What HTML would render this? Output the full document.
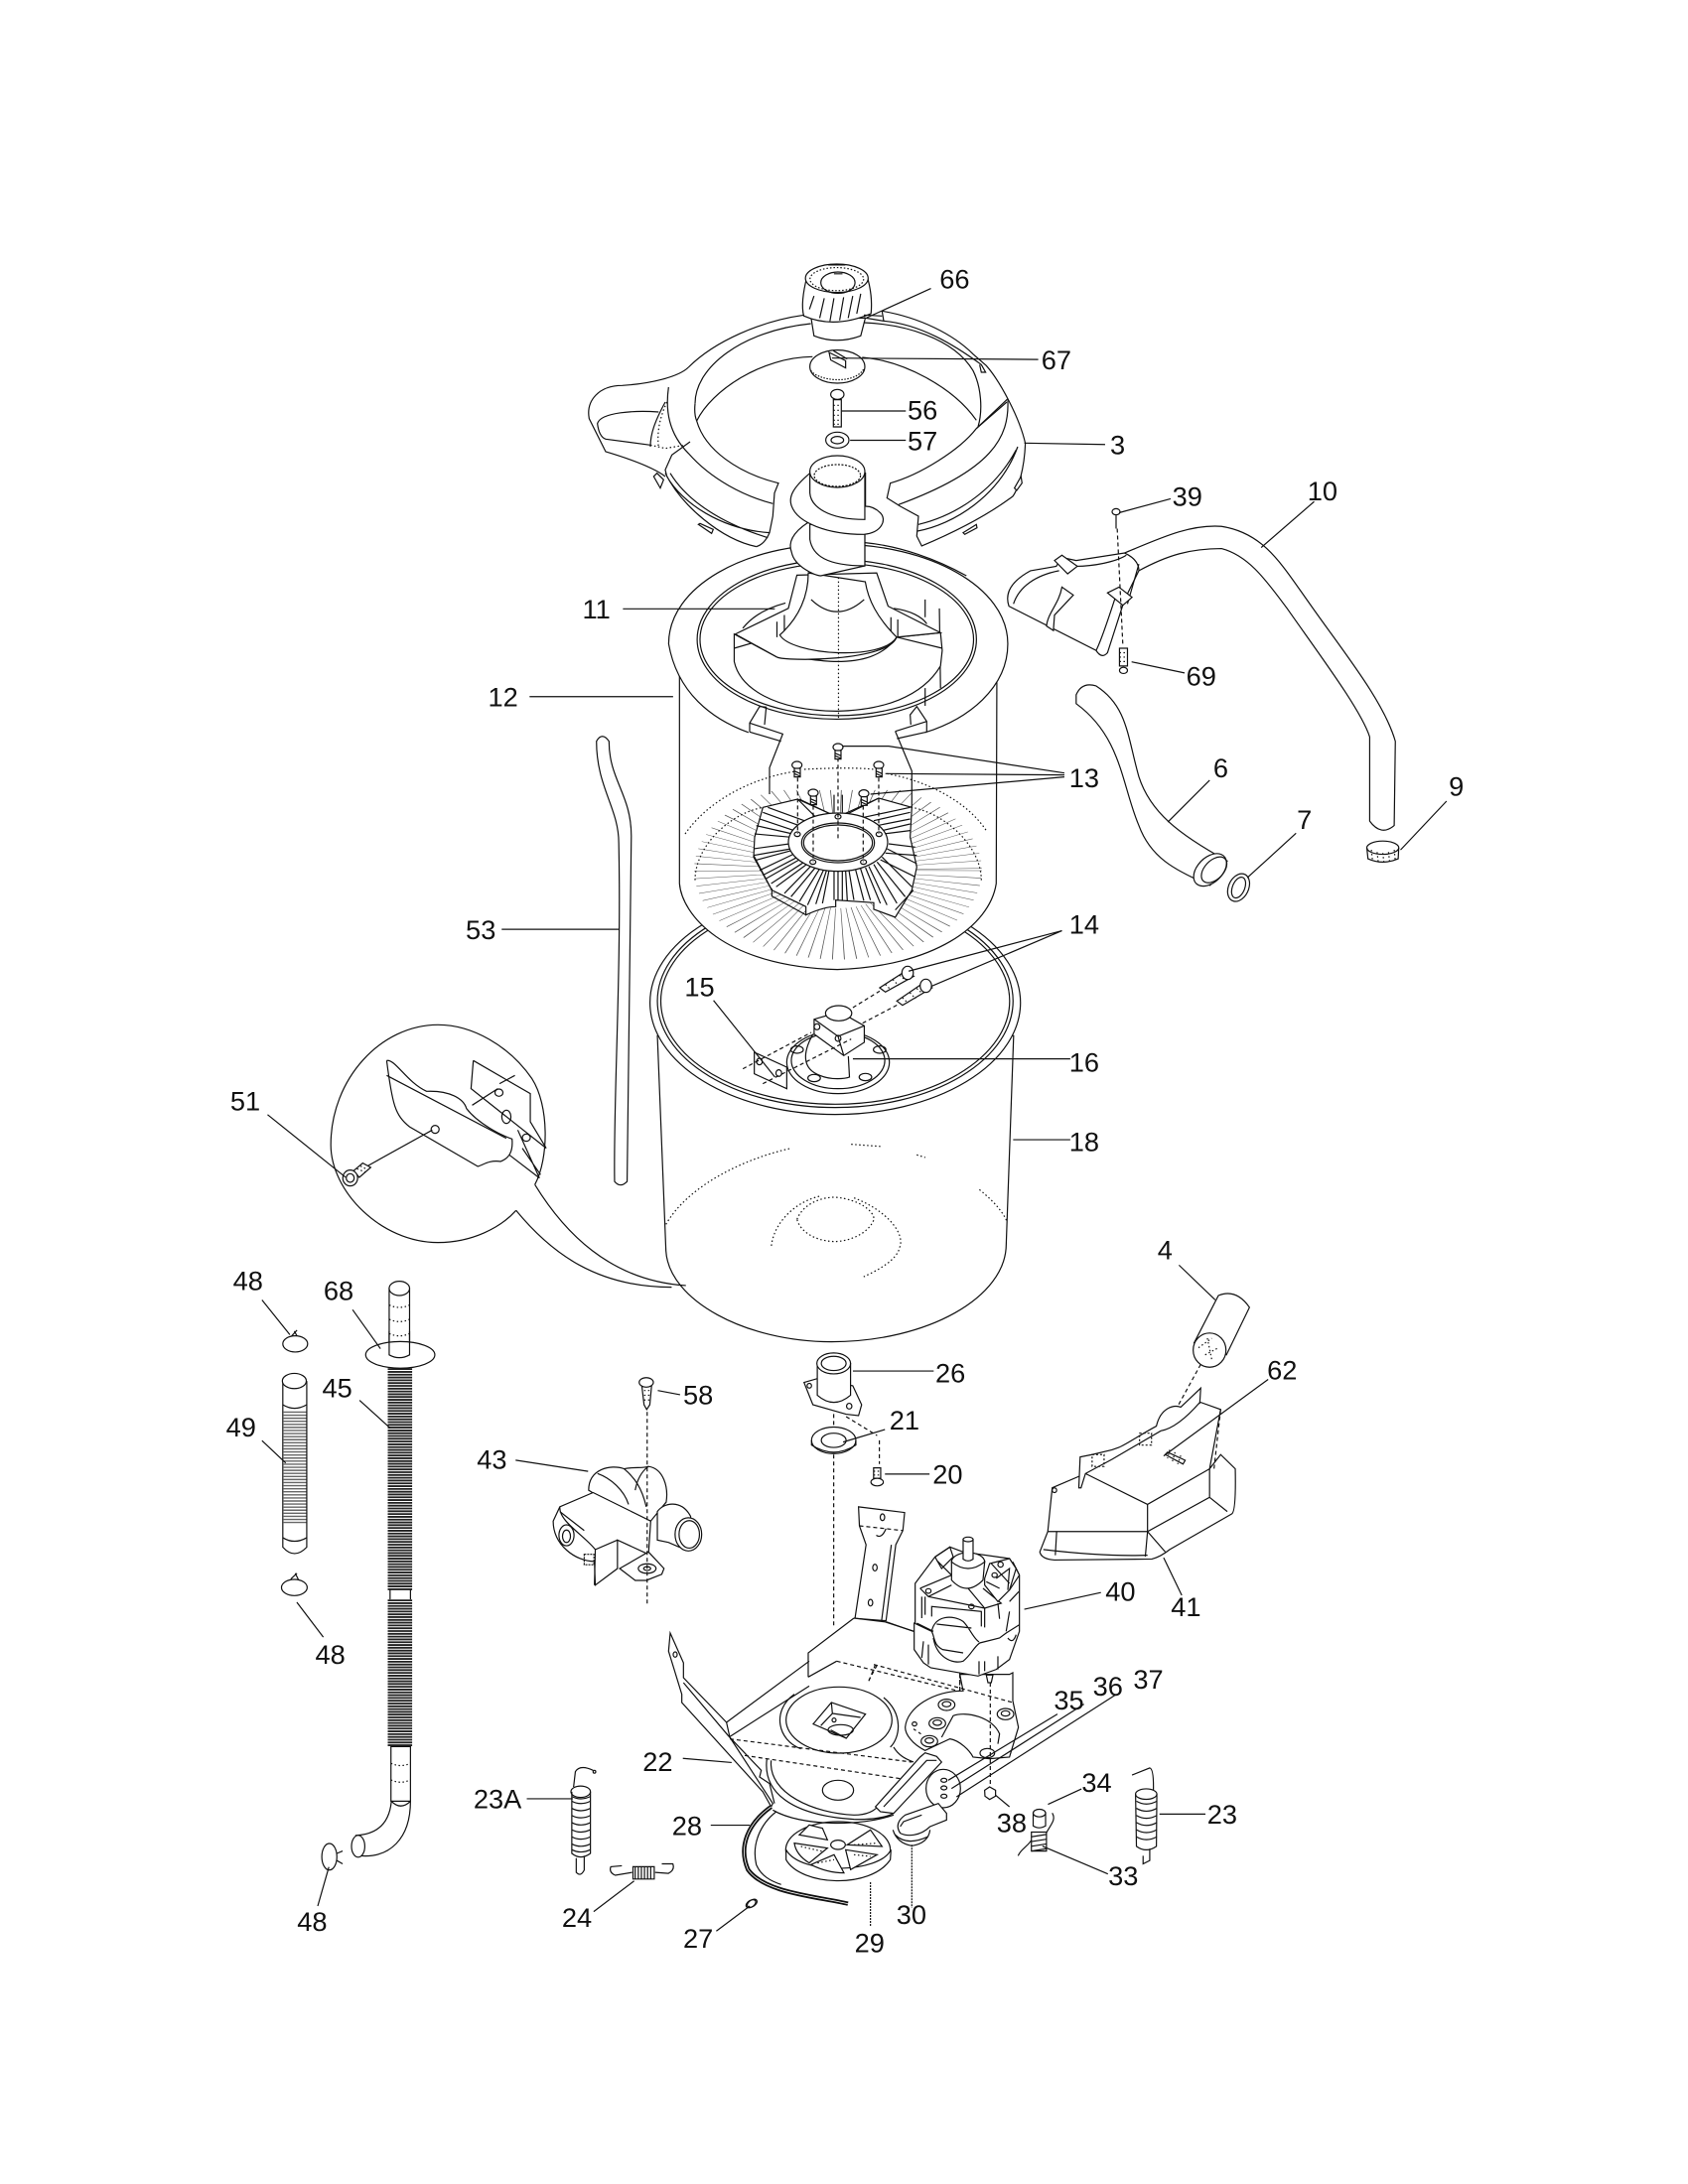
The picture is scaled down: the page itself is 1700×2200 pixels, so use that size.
<!DOCTYPE html>
<html><head><meta charset="utf-8"><style>
html,body{margin:0;padding:0;background:#fff}
svg{display:block}
svg path,svg ellipse,svg line,svg polygon,svg circle,svg rect{vector-effect:non-scaling-stroke}
svg .nv{vector-effect:none}
g.l{fill:none;stroke:#111;stroke-width:1.2}
.w{fill:#fff}
.n{stroke:none}
.d{stroke-dasharray:4 3}
.o{stroke-dasharray:1.5 2.5}
text{font-family:"Liberation Sans",sans-serif;font-size:19.4px;fill:#111;text-anchor:middle;stroke:none}
</style></head><body>
<svg xmlns="http://www.w3.org/2000/svg" width="1700" height="2200" viewBox="0 0 1700 2200">

<!-- TUB 18 + balloon (Z2) -->
<g class="l" transform="translate(200,900) scale(.574,.3333)">
<path class="w" d="M805,430 L820,1080 C825,1230 960,1355 1110,1355 C1280,1355 1417,1220 1417,1060 L1430,430 Z"/>
<ellipse class="w" cx="1117" cy="330" rx="325" ry="338"/>
<ellipse cx="1117" cy="325" rx="312" ry="322"/>
<ellipse cx="1117" cy="325" rx="306" ry="312"/>
<path class="o" d="M820,1000 C860,880 960,800 1040,770 M1145,758 L1200,765 M1260,790 L1275,798 M1370,895 C1395,930 1410,960 1418,990"/>
<path class="o" d="M1005,1065 C1010,990 1050,930 1090,915 M1150,920 C1210,960 1240,1030 1230,1070 C1225,1110 1190,1140 1165,1160"/>
<path class="o" d="M1050,985 C1060,940 1090,918 1117,918 C1160,925 1185,960 1185,985 C1175,1030 1140,1052 1115,1052 C1080,1050 1055,1020 1050,985"/>
<ellipse class="w" cx="1122" cy="510" rx="90" ry="95"/>
<ellipse cx="1122" cy="505" rx="82" ry="85"/>
<path class="w" d="M1080,380 L1125,358 L1168,400 L1168,450 L1132,490 L1080,425 Z"/>
<path d="M1080,380 L1122,432 L1168,400 M1122,432 L1132,490 M1078,425 C1060,480 1058,530 1090,550 C1110,565 1135,560 1142,555 L1140,492"/>
<ellipse class="w" cx="1123" cy="362" rx="23" ry="23"/>
<ellipse cx="1085" cy="403" rx="5" ry="9"/><ellipse cx="1122" cy="438" rx="5" ry="9"/>
<ellipse cx="1050" cy="472" rx="11" ry="11"/><ellipse cx="1195" cy="472" rx="11" ry="11"/><ellipse cx="1080" cy="558" rx="11" ry="11"/><ellipse cx="1170" cy="555" rx="11" ry="11"/>
<polygon class="w" points="975,480 1032,525 1032,590 975,545"/>
<ellipse cx="984" cy="508" rx="5" ry="10"/><ellipse cx="1018" cy="543" rx="5" ry="10"/>
<path class="d" d="M955,530 L1075,420 M990,575 L1145,440 M1148,345 L1195,295 M1165,392 L1228,335"/>
<path class="w" d="M1195,285 L1240,235 L1255,250 L1205,298 Z M1225,325 L1272,270 L1287,285 L1235,338 Z"/>
<path class="o" d="M1205,275 L1215,292 M1218,260 L1228,278 M1230,247 L1240,262 M1235,315 L1245,332 M1248,300 L1258,318 M1260,287 L1270,302"/>
<ellipse class="w" cx="1244" cy="240" rx="10" ry="20"/><ellipse class="w" cx="1276" cy="279" rx="10" ry="20"/>
<path d="M590,880 C615,800 615,640 585,560 C545,460 480,397 420,397 C320,397 232,560 232,760 C232,900 320,1055 420,1055 C480,1055 530,1010 557,958"/>
<path d="M590,880 C640,1020 720,1170 855,1185 M557,958 C620,1090 700,1190 830,1190"/>
<path d="M330,505 C345,500 365,570 400,598 C440,595 465,620 470,650 C490,695 530,730 550,742 C552,780 545,800 530,810 C510,805 500,820 490,825 L370,705 C345,670 340,640 330,505"/>
<path d="M330,550 L540,740 M482,505 L582,605 L582,690 L610,770 M482,505 L478,590 L610,770 M555,550 L528,575 M480,640 L525,590 M560,715 L598,860 L545,790 M568,770 L600,850"/>
<ellipse cx="540" cy="675" rx="8" ry="20"/><ellipse cx="575" cy="738" rx="7" ry="11"/><ellipse cx="527" cy="602" rx="7" ry="11"/><ellipse cx="415" cy="713" rx="7" ry="12"/>
<path d="M295,825 L410,715"/>
<path class="w" d="M272,838 L288,815 L302,828 L282,858 Z"/>
<path class="o" d="M278,832 L292,842 M284,824 L298,836"/>
<ellipse class="w" cx="266" cy="860" rx="13" ry="24"/><ellipse cx="266" cy="860" rx="7" ry="13"/>
</g>

<!-- BASKET wall (N1) -->
<g class="l" transform="translate(640,680) scale(.3333)">
<path class="w" d="M133,-20 L133,630 C140,720 260,880 610,890 C900,880 1070,760 1090,630 L1092,-20 Z"/>
<circle class="nv" transform="translate(612,590) scale(1,.62)" r="310" fill="none" stroke="#555" stroke-width="250" stroke-dasharray="2.2 24"/>
</g>

<!-- TOP (Z1) rim, auger base, hoses -->
<g class="l" transform="translate(550,220) scale(.574,.4464)">
<path class="w n" d="M355,1160 C290,1130 230,1070 215,960 C215,830 350,735 510,735 C670,735 810,830 810,960 C810,1060 740,1130 665,1160 L612,1165 L640,1290 L390,1290 L415,1165 Z"/>
<path d="M355,1160 C290,1130 230,1070 215,960 C215,830 350,735 510,735 C670,735 810,830 810,960 C810,1060 740,1130 665,1160"/>
<ellipse cx="510" cy="950" rx="245" ry="180"/>
<ellipse cx="510" cy="950" rx="240" ry="172"/>
<path d="M665,860 L665,900 M690,880 L692,1060 M665,1060 L665,1100"/>
<path class="w" d="M405,990 C430,985 470,1000 510,1000 C550,1000 590,990 615,945 L692,935 L695,975 L692,1010 C660,1080 590,1110 510,1112 C400,1110 340,1060 330,1000 L330,938 Z"/>
<path d="M330,970 L410,940 M695,970 L615,945"/>
<path class="w" d="M440,805 L425,880 L332,938 L405,990 C420,1000 600,1000 615,945 L692,935 L600,875 L580,800 Z"/>
<path d="M405,910 L405,945 M418,895 L418,945 M605,900 L605,935 M617,905 L617,945 M345,925 C360,900 385,880 420,868 M610,880 C640,885 660,900 668,915"/>
<path class="w" d="M460,800 C460,850 445,900 410,940 C430,985 590,1000 615,945 C580,900 565,860 560,820 Z"/>
<path d="M465,860 Q510,915 558,860"/>
<path class="o" d="M513,810 L513,1130"/>
<!-- knob -->
<path class="w" d="M465,225 L470,265 Q510,285 552,265 L560,225 Z"/>
<path class="w" d="M458,130 C450,170 448,200 452,220 Q505,250 570,215 C572,190 570,160 563,130 Z"/>
<ellipse class="w" cx="510" cy="135" rx="55" ry="32"/>
<ellipse cx="512" cy="145" rx="30" ry="24"/>
<ellipse cx="510" cy="137" rx="47" ry="26" stroke-dasharray="1.5 2"/>
<path d="M470,175 L462,205 M488,180 L480,225 M505,180 L498,232 M522,178 L515,230 M538,175 L530,225 M552,170 L545,215 M495,105 L525,105 M505,125 L520,125"/>
<!-- hose 10 + nozzle -->
<path class="w" d="M1015,755 C1080,720 1130,690 1185,695 C1260,710 1290,780 1340,870 C1400,980 1470,1090 1490,1180 L1488,1370 Q1465,1395 1445,1360 L1445,1170 C1430,1110 1360,990 1300,880 C1260,810 1230,760 1185,745 C1130,745 1090,760 1040,795 Z"/>
<path class="w" d="M812,875 Q800,830 850,795 L895,785 L905,765 L930,772 L1015,755 Q1040,770 1040,795 L1015,860 L985,980 Q975,995 965,975 Z"/>
<path d="M820,870 C830,830 860,805 900,795 M930,785 C960,785 1000,775 1018,760 M1000,850 C990,890 975,950 965,975 M1040,780 L1020,870"/>
<path class="w" d="M905,832 L925,850 L892,895 L890,930 L878,920 C880,890 900,870 905,832 Z"/>
<polygon class="w" points="892,772 905,760 932,785 915,802"/>
<polygon class="w" points="985,845 1005,832 1028,855 1012,873"/>
<path d="M1000,670 L1000,700"/><path class="d" d="M1002,700 L1012,965"/>
<ellipse class="w" cx="1000" cy="662" rx="7" ry="7"/>
<path d="M1006,970 L1020,970 L1020,1010 L1006,1010 Z"/><path class="o" d="M1006,980 L1020,980 M1006,990 L1020,990 M1006,1000 L1020,1000"/>
<ellipse class="w" cx="1013" cy="1020" rx="7" ry="7"/>
<path class="w" d="M930,1075 Q940,1045 965,1055 C1020,1100 1020,1170 1040,1260 C1060,1340 1110,1390 1195,1450 L1165,1505 C1100,1470 1060,1440 1040,1370 C1010,1280 1010,1170 930,1095 Z"/>
<ellipse class="w" cx="1165" cy="1470" rx="24" ry="40" transform="rotate(30 1165 1470)"/>
<ellipse cx="1172" cy="1470" rx="18" ry="32" transform="rotate(30 1172 1470)"/>
<ellipse cx="1215" cy="1510" rx="18" ry="32" transform="rotate(15 1215 1510)"/>
<ellipse cx="1215" cy="1510" rx="11" ry="24" transform="rotate(15 1215 1510)"/>
<ellipse cx="1468" cy="1420" rx="28" ry="15"/>
<path d="M1440,1420 L1442,1445 Q1468,1460 1495,1445 L1496,1420"/>
<path class="o" d="M1448,1425 L1450,1450 M1458,1430 L1460,1452 M1468,1432 L1470,1454 M1478,1430 L1480,1452 M1488,1425 L1490,1450"/>
</g>

<!-- LID + tube (N4) -->
<g class="l" transform="translate(560,280) scale(.3333)">
<path d="M400,270 C480,190 620,130 750,112 M420,380 C420,270 560,160 770,138"/>
<path d="M400,270 C370,300 280,320 200,325 C130,325 90,370 100,425 L150,525 C200,540 290,570 330,600"/>
<path d="M340,330 C330,400 340,470 400,530 C470,610 570,660 655,682"/>
<path d="M420,380 C418,400 420,420 425,432 C470,340 620,240 775,238 M425,432 C450,520 550,590 672,620 L660,650 L655,720 L645,770 Q630,805 605,812"/>
<path d="M310,405 C240,400 135,405 125,440 Q130,480 150,487 L285,505"/>
<path class="o" d="M285,505 L330,515 L390,505 M335,375 C310,430 305,470 310,515"/>
<path d="M330,375 C300,430 285,470 285,510"/>
<path d="M405,495 L350,535 L330,580 L335,600 C380,680 500,760 645,770 M330,590 C380,690 500,790 605,812 M345,590 C400,680 510,745 640,785"/>
<path class="w" d="M295,600 L315,635 L325,610 L305,590 Z M430,745 L470,772 L475,760 L435,742 Z"/>
<path d="M985,100 L990,130 L930,120 M930,112 L985,115 M985,100 C1100,120 1200,170 1260,230 L1300,265 C1340,310 1400,420 1418,500 C1415,580 1395,640 1380,660 C1300,720 1200,770 1105,810 L1090,780 L1095,720 L1040,690 L1000,665 L1010,620 C1100,595 1220,520 1270,455 L1365,365"/>
<path d="M930,135 C1050,140 1200,180 1260,280 C1285,330 1290,400 1275,450 M925,240 C1050,250 1200,330 1270,430 M1270,455 L1362,375 M1365,370 C1370,480 1320,580 1035,685"/>
<path d="M1095,745 C1200,720 1320,650 1390,520 M1092,765 C1200,745 1340,660 1395,510 M990,130 C1100,140 1200,200 1285,262 L1298,285 L1285,285 L1280,262"/>
<path class="w" d="M1385,635 L1405,600 L1408,620 L1392,642 Z M1230,770 L1270,745 L1272,755 L1235,775 Z"/>
<!-- 67 -->
<ellipse class="w" cx="850" cy="268" rx="83" ry="50"/>
<path stroke-dasharray="1.5 1.5" d="M770,280 C790,310 900,325 930,275"/>
<path d="M825,225 L875,250 L875,272 L830,248 Z M838,220 L880,245"/>
<!-- 56/57 -->
<path class="w" d="M838,368 L838,450 L862,450 L862,368 Z"/>
<ellipse class="w" cx="850" cy="352" rx="20" ry="15"/>
<path class="o" d="M838,385 L862,385 M838,400 L862,400 M838,415 L862,415 M838,430 L862,430 M838,442 L862,442"/>
<ellipse cx="850" cy="490" rx="35" ry="24"/><ellipse cx="850" cy="490" rx="19" ry="11"/>
<!-- spiral + tube -->
<path class="w" d="M760,740 C715,770 700,800 712,830 C720,870 780,900 800,900 L933,870 L933,740 Z"/>
<path d="M933,800 C1040,810 1150,850 1240,900"/>
<path class="w" d="M767,745 L767,790 C775,840 820,870 933,870 L933,745 Z"/>
<path class="w" d="M767,590 C720,630 700,660 712,690 C730,740 820,775 930,775 C985,770 1000,730 980,710 Q960,690 935,690 L935,590 Z"/>
<path class="w" d="M767,585 L767,650 C770,690 820,730 933,730 L933,585 Z"/>
<ellipse class="w" cx="850" cy="585" rx="83" ry="48"/>
<ellipse cx="850" cy="597" rx="70" ry="33" stroke-dasharray="2 1.5"/>
</g>

<!-- BASKET interior (N1) -->
<g class="l" transform="translate(640,680) scale(.3333)">
<path d="M345,172 L345,145 L375,95 L395,97 L390,150 M345,145 L445,178 L405,280 L405,360 M345,172 L440,200"/>
<path d="M832,150 L830,120 L850,95 L880,140 L880,172 M785,170 L880,140 M790,192 L880,172 M785,170 L835,290 L835,400"/>
<path class="o" d="M150,480 C220,380 350,310 490,290 M510,285 C600,280 680,280 720,285 M760,298 C880,320 1000,380 1060,470 M180,620 C180,520 280,420 385,400 M1045,620 C1045,520 940,420 835,400"/>
<path class="w" d="M385,400 L490,375 L590,420 L630,420 L735,372 L835,400 L830,490 L850,580 L835,650 L785,732 L720,708 L720,688 L605,680 L605,700 Q570,700 515,725 L515,700 L412,650 L357,550 L360,490 Z"/>
<path d="M412,645 L412,668 L515,725 M785,710 L840,650 M412,650 L357,545"/>
<path d="M465,510 L357,525 M470,525 L357,545 M480,540 L375,590 M495,558 L395,615 M520,570 L425,640 M545,580 L470,670 M570,585 L520,695 M585,590 L565,690 M600,592 L600,680 M625,592 L625,680 M645,590 L660,680 M680,585 L710,680 M705,578 L760,695 M730,565 L815,670 M745,550 L835,640 M760,525 L850,570 M765,510 L845,520 M470,490 L360,480 M480,470 L375,435 M510,440 L400,400 M545,430 L490,375 M590,420 L495,375 M640,420 L735,372 M690,430 L830,400 M730,455 L830,435 M750,480 L830,470"/>
<path d="M472,530 L362,560 M490,550 L385,605 M510,565 L410,630 M532,575 L450,660 M558,583 L495,685 M578,588 L545,692 M612,592 L612,682 M635,592 L640,682 M665,588 L690,682 M695,582 L740,690 M720,572 L790,690 M740,558 L845,610 M755,538 L850,545 M475,480 L365,455 M495,455 L385,415 M720,440 L830,415 M745,470 L830,450"/>
<path d="M600,362 L600,415 M625,362 L625,415"/>
<ellipse class="w" cx="612" cy="505" rx="150" ry="88"/>
<ellipse cx="612" cy="507" rx="110" ry="60"/>
<ellipse cx="612" cy="507" rx="104" ry="54"/>
<path class="d" d="M612,250 L612,500 M490,310 L490,480 M735,310 L735,480 M537,395 L537,565 M688,395 L688,565"/>
<ellipse cx="612" cy="428" rx="9" ry="7"/><ellipse cx="489" cy="481" rx="9" ry="7"/><ellipse cx="736" cy="481" rx="9" ry="7"/><ellipse cx="536" cy="565" rx="9" ry="7"/><ellipse cx="689" cy="565" rx="9" ry="7"/>
<g>
<ellipse class="w" cx="612" cy="218" rx="15" ry="11"/><rect class="w" x="603" y="228" width="18" height="26"/><path d="M603,236 L621,244 M603,244 L621,252"/>
<ellipse class="w" cx="488" cy="272" rx="15" ry="11"/><rect class="w" x="480" y="282" width="18" height="26"/><path d="M480,290 L498,298 M480,298 L498,306"/>
<ellipse class="w" cx="735" cy="272" rx="15" ry="11"/><rect class="w" x="727" y="282" width="18" height="26"/><path d="M727,290 L745,298 M727,298 L745,306"/>
<ellipse class="w" cx="537" cy="356" rx="15" ry="11"/><rect class="w" x="529" y="366" width="18" height="26"/><path d="M529,374 L547,382 M529,382 L547,390"/>
<ellipse class="w" cx="690" cy="358" rx="15" ry="11"/><rect class="w" x="682" y="368" width="18" height="26"/><path d="M682,376 L700,384 M682,384 L700,392"/>
</g>
<path d="M625,215 L765,215 L1296,296 M755,298 L1296,302 M710,360 L1296,308"/>
</g>

<!-- BOTTOM LEFT, coordinates 1.4035x -->
<g class="l" transform="scale(1.4035)">
<path class="w" d="M428,532 Q432,525 437,532 C437,560 453,570 453,600 C452,700 450,800 450,848 Q445,853 441,848 C440,790 446,700 444,605 C444,580 428,565 428,532 Z"/>
<line class="nv" x1="287" y1="982" x2="287" y2="1142" stroke="#222" stroke-width="17.5" stroke-dasharray="1.3 .7"/>
<line class="nv" x1="287" y1="1148" x2="287" y2="1254" stroke="#222" stroke-width="17.5" stroke-dasharray="1.3 .7"/>
<line class="nv" x1="212" y1="1013" x2="212" y2="1094" stroke="#666" stroke-width="17" stroke-dasharray="1 1.2"/>
</g>
<g class="l" transform="translate(200,1250) scale(.4464,.4783)">
<path d="M432,735 L432,755 M478,735 L478,755"/>
<path class="w" d="M430,100 L430,240 L476,240 L476,100 Z"/>
<ellipse class="w" cx="453" cy="100" rx="23" ry="15"/>
<path class="o" d="M430,135 Q453,145 476,135 M430,165 Q453,175 476,165 M430,195 Q453,205 476,195"/>
<ellipse class="w" cx="455" cy="240" rx="78" ry="28"/>
<path d="M430,190 L430,240 Q453,252 476,240 L476,190"/>
<path class="w" d="M434,1065 L434,1180 L478,1180 L478,1065 Z"/>
<path class="o" d="M434,1100 Q456,1110 478,1100 M434,1135 Q456,1145 478,1135"/>
<path class="w" d="M435,1180 C430,1230 400,1250 355,1252 L365,1295 C430,1300 478,1260 478,1180 Q456,1200 435,1180 Z"/>
<ellipse class="w" cx="360" cy="1275" rx="15" ry="23"/>
<path d="M190,295 L190,645 Q216,672 244,645 L244,295"/>
<ellipse class="w" cx="216" cy="295" rx="27" ry="16"/>
<path d="M190,345 Q216,360 244,345 M190,625 Q216,640 244,625"/>
<ellipse cx="218" cy="217" rx="28" ry="17"/><path d="M210,200 L222,188 M222,200 L216,190"/>
<ellipse cx="216" cy="730" rx="29" ry="17"/><path d="M208,712 L222,700 M225,713 L218,700"/>
<ellipse cx="295" cy="1297" rx="17" ry="28"/><path d="M312,1290 L325,1285 M312,1305 L325,1312"/>
<ellipse class="w" cx="1010" cy="298" rx="16" ry="10"/><path d="M1000,305 L1005,345 L1011,355 L1018,345 L1022,305"/>
<path class="o" d="M1005,315 L1018,315 M1005,325 L1018,325 M1005,335 L1018,335"/>
<path class="w" d="M880,525 C880,480 930,470 960,480 C985,475 1000,480 1015,475 C1050,480 1060,520 1055,550 L1020,590 L940,560 Z"/>
<path d="M900,490 C930,500 960,525 970,555 M960,480 C985,500 1000,520 1010,560 M1015,475 C1000,485 990,500 985,525"/>
<path class="w" d="M1035,570 C1050,550 1090,545 1110,580 L1115,650 L1085,645 L1060,635 L1035,630 Z"/>
<ellipse class="w" cx="1105" cy="618" rx="30" ry="35"/><ellipse cx="1107" cy="618" rx="23" ry="29"/>
<path class="w" d="M800,590 L815,560 L890,530 L1020,590 L1015,660 L945,630 L945,690 L895,725 L893,675 C850,675 800,640 800,590 Z"/>
<path d="M815,560 C812,590 870,620 895,650 L945,630 M895,650 L893,725 M815,570 L870,610"/>
<ellipse cx="830" cy="620" rx="17" ry="22"/><ellipse cx="830" cy="622" rx="9" ry="13"/>
<rect x="870" y="660" width="22" height="22" stroke-dasharray="2 1"/>
<path class="w" d="M950,690 L1015,655 L1050,690 L1045,702 L1010,715 L985,715 Z"/>
<ellipse cx="1012" cy="690" rx="20" ry="10"/><ellipse cx="1012" cy="690" rx="8" ry="4"/>
<path class="d" d="M1012,360 L1012,770"/>
<path d="M846,1150 L850,1118 Q860,1102 890,1115"/>
<ellipse cx="893" cy="1118" rx="3" ry="3"/>
<ellipse class="w" cx="862" cy="1160" rx="22" ry="12"/>
<path d="M842,1160 L842,1290 Q862,1305 884,1290 L884,1160"/>
<path d="M842,1170 Q862,1180 884,1170 M842,1180 Q862,1190 884,1180 M842,1195 Q862,1205 884,1195 M842,1210 Q862,1220 884,1210 M842,1225 Q862,1235 884,1225 M842,1240 Q862,1250 884,1240 M842,1255 Q862,1265 884,1255 M842,1270 Q862,1280 884,1270 M842,1282 Q862,1292 884,1282"/>
<path d="M852,1300 L852,1330 Q862,1340 870,1325 L870,1295"/>
<path d="M978,1330 L940,1336 Q925,1330 930,1318 L955,1316 M1030,1330 L1060,1332 Q1075,1325 1070,1312 L1045,1312"/>
<path d="M980,1318 L1028,1318 L1028,1344 L980,1344 Z"/>
<path d="M985,1318 L985,1344 M992,1318 L992,1344 M999,1318 L999,1344 M1006,1318 L1006,1344 M1013,1318 L1013,1344 M1020,1318 L1020,1344"/>
<ellipse cx="1246" cy="1396" rx="12" ry="7" transform="rotate(-30 1246 1396)"/>
</g>

<!-- Z4: upright, bushing, shroud, small parts -->
<g class="l" transform="translate(620,1250) scale(.4464,.4783)">
<path class="d" d="M492,450 L492,810 M595,420 L595,470 M520,370 L590,410 M492,350 L492,395"/>
<path class="w" d="M425,298 L455,290 L535,305 L555,345 L548,368 L520,365 L445,345 Z"/>
<path class="w" d="M455,258 L455,325 Q492,355 530,325 L530,258 Z"/>
<ellipse class="w" cx="492" cy="258" rx="38" ry="22"/><ellipse cx="492" cy="258" rx="28" ry="15"/>
<ellipse cx="437" cy="305" rx="5" ry="5"/><ellipse cx="527" cy="348" rx="6" ry="6"/>
<ellipse class="w" cx="492" cy="420" rx="50" ry="28"/><ellipse cx="492" cy="420" rx="28" ry="15"/>
<path d="M442,420 L442,430 Q492,460 542,430 L542,420"/>
<path class="w" d="M582,478 L598,478 L598,500 L582,500 Z"/><ellipse class="w" cx="590" cy="508" rx="14" ry="8"/>
<path class="o" d="M582,485 L598,485 M582,493 L598,493"/>
<path class="w" d="M548,560 L652,572 L648,610 L632,640 L610,800 L540,795 L565,640 L550,600 Z"/>
<path class="d" d="M550,600 L648,610"/>
<path d="M600,800 L622,640"/>
<ellipse cx="602" cy="582" rx="5" ry="7"/><ellipse cx="585" cy="688" rx="5" ry="7"/><ellipse cx="575" cy="762" rx="5" ry="7"/>
<path d="M588,620 Q600,628 610,606"/>
<path class="w" d="M975,612 L985,520 L1060,490 L1320,340 L1365,355 L1340,480 L1365,450 L1398,480 Q1400,570 1390,575 L1250,650 Q1230,665 1210,670 L990,672 Q960,670 957,655 Z"/>
<path d="M1060,490 L1200,555 L1340,480 M1200,555 L1200,612 L1195,665 M975,612 L1200,612 L1340,540 L1340,480 M1200,612 L1240,655 M1340,540 L1380,570 M995,612 L992,662 M965,650 Q1100,665 1200,662"/>
<path class="d" d="M1365,355 L1350,480"/>
<path class="w" d="M1045,520 L1048,455 L1075,450 L1120,440 L1135,435 C1150,430 1180,410 1220,390 C1230,350 1260,345 1275,350 L1320,310 L1318,340 C1290,370 1260,395 1230,400 L1120,460 L1060,490 L1050,520 Z"/>
<rect x="1075" y="450" width="27" height="25" stroke-dasharray="2 2"/><rect x="1182" y="405" width="27" height="25" stroke-dasharray="2 2"/>
<ellipse cx="990" cy="525" rx="5" ry="5"/>
<path class="d" d="M1320,260 L1270,345 M1340,210 L1325,240"/>
<path d="M1245,445 L1285,462 L1280,470 L1240,450 Z"/><path class="o" d="M1250,440 L1245,458 M1262,445 L1256,465 M1275,452 L1268,470"/>
<path class="w" d="M1305,215 L1360,115 Q1400,100 1430,140 L1378,240 Z"/>
<ellipse class="w" cx="1340" cy="230" rx="37" ry="36"/>
<path class="o" d="M1315,225 L1345,205 M1330,240 L1360,225 M1335,205 L1345,250"/>
<ellipse cx="308" cy="1395" rx="12" ry="7" transform="rotate(-30 308 1395)"/>
<path class="w" d="M942,1205 L942,1232 Q955,1240 970,1232 L970,1205 Z"/><ellipse class="w" cx="956" cy="1205" rx="14" ry="8"/>
<path d="M940,1260 C925,1280 915,1280 908,1295 M970,1250 C980,1230 995,1220 985,1205"/>
<path class="w" d="M938,1245 L972,1245 L972,1285 L938,1285 Z"/>
<path d="M938,1255 L972,1250 M938,1265 L972,1260 M938,1275 L972,1270 M938,1285 L972,1280"/>
<path d="M1165,1125 L1205,1110 Q1215,1112 1213,1165"/>
<ellipse class="w" cx="1197" cy="1165" rx="24" ry="11"/>
<path d="M1173,1165 L1175,1275 Q1197,1290 1220,1275 L1221,1165"/>
<path d="M1175,1180 Q1197,1192 1221,1180 M1175,1195 Q1197,1207 1221,1195 M1175,1210 Q1197,1222 1221,1210 M1175,1225 Q1197,1237 1221,1225 M1175,1240 Q1197,1252 1221,1240 M1175,1255 Q1197,1267 1221,1255"/>
<path d="M1205,1280 L1205,1305 L1190,1312 L1190,1295"/>
</g>

<!-- BASE, pulley, belt (N3) -->
<g class="l" transform="translate(620,1620) scale(.3333)">
<ellipse class="w" cx="672" cy="730" rx="158" ry="85"/>
<path class="w" d="M515,730 L515,760 C560,840 770,850 830,760 L832,730 C800,800 560,810 515,730 Z"/>
<path class="w" d="M555,685 L585,655 L625,665 L640,700 Z M540,710 L640,725 L585,770 Q545,745 540,710 Z M590,775 L660,745 L690,800 Q640,800 590,775 Z M695,730 L790,745 L710,790 Z M700,715 L770,670 L805,720 Z"/>
<path class="o" d="M560,720 L625,735 M610,770 L660,760 M720,715 L790,710 M720,745 L770,750"/>
<ellipse class="w" cx="672" cy="715" rx="22" ry="14"/>
<path stroke-dasharray="2 1" d="M770,828 L770,962 M895,715 L895,905"/>
<path class="w n" d="M720,30 L900,70 L1225,150 L1225,470 L985,620 L840,625 L720,640 L475,610 L345,390 L332,345 L582,135 Z"/>
<path d="M720,30 L582,135 L582,208 M585,160 L335,345 M585,235 L345,388 M582,208 L668,160 M720,30 L820,42 L900,70"/>
<path class="d" d="M668,160 L1200,290 M790,172 L765,218 M1040,195 L1040,250"/>
<path class="w" d="M165,75 L205,165 L205,210 L335,345 L345,390 L475,590 L470,600 L445,555 L200,285 L200,260 L160,130 Z"/>
<path d="M205,225 L340,385 L440,490 L435,510 L465,530 L480,590"/>
<ellipse cx="180" cy="140" rx="6" ry="8"/>
<path d="M540,260 C470,310 490,400 560,425 M810,270 C870,320 860,390 830,420"/>
<ellipse class="w" cx="675" cy="338" rx="160" ry="100"/>
<polygon class="w" points="652,285 755,320 697,393 597,350"/>
<path d="M652,285 L655,318 L620,355 M655,318 L740,330 M697,393 L650,368"/>
<ellipse cx="680" cy="368" rx="38" ry="16"/><ellipse cx="660" cy="338" rx="6" ry="6"/>
<path class="d" d="M345,395 L895,465 M390,445 L860,515"/>
<path d="M840,420 C855,445 875,455 900,465"/>
<path d="M470,460 C460,560 600,620 720,625 C770,625 790,605 800,590 M457,455 C445,550 520,625 720,638 C780,640 820,630 840,620 M475,610 C560,660 740,660 840,625"/>
<ellipse cx="672" cy="550" rx="47" ry="30"/>
<path class="w" d="M785,600 L920,450 L935,437 L970,448 L985,465 L840,620 L800,615 Z"/>
<path d="M810,600 L940,460 L970,460"/>
<path d="M470,600 C400,650 370,720 400,790 C450,860 600,870 702,893" style="stroke-width:4.4"/>
<path d="M470,600 C400,650 370,720 400,790 C450,860 600,870 702,893" style="stroke:#fff;stroke-width:.8"/>
<path d="M485,615 C440,650 410,710 425,775 C440,810 470,825 500,835"/>
</g>

<!-- MOTOR + plate (N2) -->
<g class="l" transform="translate(860,1480) scale(.3333)">
<path class="w" d="M155,780 C160,720 240,670 330,670 L320,620 L470,620 L480,615 L480,700 L497,780 L470,870 L410,875 L360,870 C350,850 320,820 290,815 L215,850 C175,830 155,800 155,780 Z"/>
<path class="d" d="M60,590 L480,705 M320,620 L320,670 M45,640 L65,590"/>
<path d="M265,810 L300,745 C340,730 420,750 440,800 L435,830"/>
<ellipse cx="280" cy="712" rx="25" ry="17"/><ellipse cx="280" cy="710" rx="13" ry="8"/>
<ellipse cx="458" cy="740" rx="25" ry="17"/><ellipse cx="458" cy="738" rx="13" ry="8"/>
<ellipse cx="252" cy="768" rx="25" ry="17"/><ellipse cx="252" cy="766" rx="13" ry="8"/>
<ellipse cx="228" cy="822" rx="25" ry="17"/><ellipse cx="228" cy="820" rx="13" ry="8"/>
<ellipse cx="403" cy="858" rx="22" ry="14"/>
<ellipse cx="183" cy="770" rx="7" ry="6"/><path stroke-dasharray="3 3" d="M180,785 L210,805"/>
<path class="d" d="M412,645 L412,990"/>
<path class="w" d="M185,345 L245,265 L290,235 L330,250 L470,270 L490,300 L500,320 L500,490 L470,575 L430,605 L375,625 L232,600 L210,585 L182,545 L182,465 L185,465 Z"/>
<path d="M95,462 L182,490 M182,465 L235,490 C245,510 240,530 268,545 L330,555 M500,470 L460,495 L440,510 L380,525 C360,540 355,560 330,580 C300,590 250,570 240,510 M235,490 C245,440 300,440 330,460 C350,480 360,510 378,522 M250,468 L355,480 M190,465 L240,490"/>
<path d="M245,265 L290,235 L300,265 L265,300 Z M200,360 L225,385 L395,420 L445,405 L390,360 M200,360 L295,320 M225,385 L295,350 M345,360 L395,420 M250,275 L295,320"/>
<path d="M235,445 L235,415 L385,430 L385,475 M395,420 L395,478 M435,405 L440,452 M205,385 L205,450 M215,385 L215,440 M470,430 L460,490 M210,520 L205,570 M225,530 L225,590 M378,580 L378,620 M395,580 L395,610 M435,565 L435,605 M465,510 Q480,530 490,500"/>
<path d="M470,365 L500,320 M480,280 L500,320 M470,400 L498,370"/>
<ellipse cx="345" cy="280" rx="50" ry="28" class="w"/>
<path class="w" d="M295,280 L295,335 Q340,385 390,335 L395,280 Q345,320 295,280 Z"/>
<path class="w" d="M330,212 L330,272 Q345,282 360,272 L360,212 Z"/>
<ellipse class="w" cx="345" cy="212" rx="15" ry="7"/>
<path class="w" d="M395,330 L410,285 L470,270 L490,300 L470,365 L435,400 L395,350 Z"/>
<path d="M415,285 L470,345 M430,330 L470,300 L465,365 M400,340 L440,360"/>
<ellipse cx="443" cy="288" rx="8" ry="8"/><ellipse cx="425" cy="320" rx="8" ry="7"/><ellipse cx="225" cy="368" rx="8" ry="7"/><ellipse cx="355" cy="415" rx="8" ry="7"/>
<path class="w" d="M400,622 L420,622 L415,645 L405,645 Z"/>
</g>

<g class="l" transform="translate(620,1620) scale(.3333)">
<ellipse class="w" cx="990" cy="545" rx="52" ry="58"/>
<ellipse cx="992" cy="520" rx="9" ry="6"/><ellipse cx="992" cy="543" rx="9" ry="6"/><ellipse cx="992" cy="568" rx="9" ry="6"/>
<path class="w" d="M1000,620 L1000,640 L950,660 C920,690 880,690 860,680 Q840,650 875,625 L975,590 Z"/>
<path d="M860,660 L870,645 L925,625"/>
<path d="M838,670 Q850,710 895,718 Q945,710 950,670 M845,685 Q880,720 945,690"/>
<polygon class="w" points="1115,550 1130,540 1148,550 1148,568 1130,578 1116,568"/>
<path d="M1005,520 L1335,320 M1015,545 L1415,290 M1030,570 L1510,262"/>
<path d="M1148,565 L1190,600"/>
</g>

<!-- LEADERS and LABELS (overview scale) -->
<g class="l" style="stroke-width:1.2" transform="scale(1.4035)">
<path d="M622,228 L668,207 M597,257 L745,258 M604,295 L650,295 M610,316 L650,316 M735,318 L793,319 M803,368 L840,358 M905,393 L943,360 M447,437 L556,437 M380,500 L483,500 M812,475 L850,483"/>
<path d="M838,590 L868,560 M895,630 L930,598 M1005,610 L1038,575 M360,667 L444,667 M652,697 L762,668 M668,708 L762,668 M512,718 L556,773 M612,760 L768,760 M727,818 L768,818 M192,800 L248,845"/>
<path d="M188,933 L208,958 M253,940 L273,968 M258,1005 L280,1025 M188,1034 L205,1050 M213,1150 L232,1175 M236,1340 L228,1368"/>
<path d="M378,1291 L411,1291 M426,1372 L455,1350 M514,1386 L538,1368 M510,1310 L538,1310 M490,1262 L525,1265"/>
<path d="M472,998 L488,1001 M370,1048 L422,1056 M612,984 L670,984 M605,1035 L635,1026 M635,1058 L667,1058 M846,908 L872,933 M835,1045 L910,990 M835,1118 L848,1145 M735,1155 L790,1143"/>
<path d="M752,1295 L776,1284 M748,1325 L795,1345 M832,1302 L865,1302"/>
<g>
<text x="685" y="207">66</text><text x="758" y="265">67</text><text x="662" y="301">56</text><text x="662" y="323">57</text><text x="802" y="326">3</text>
<text x="852" y="363">39</text><text x="949" y="359">10</text><text x="428" y="444">11</text><text x="361" y="507">12</text><text x="862" y="492">69</text>
<text x="778" y="565">13</text><text x="876" y="558">6</text><text x="936" y="595">7</text><text x="1045" y="571">9</text><text x="345" y="674">53</text>
<text x="778" y="670">14</text><text x="502" y="715">15</text><text x="778" y="769">16</text><text x="778" y="826">18</text><text x="176" y="797">51</text>
<text x="178" y="926">48</text><text x="243" y="933">68</text><text x="242" y="1003">45</text><text x="173" y="1031">49</text><text x="237" y="1194">48</text><text x="224" y="1386">48</text>
<text x="357" y="1298">23A</text><text x="414" y="1383">24</text><text x="501" y="1398">27</text><text x="493" y="1317">28</text><text x="624" y="1401">29</text><text x="654" y="1381">30</text><text x="472" y="1271">22</text>
<text x="501" y="1008">58</text><text x="353" y="1054">43</text><text x="682" y="992">26</text><text x="649" y="1026">21</text><text x="680" y="1065">20</text>
<text x="836" y="904">4</text><text x="920" y="990">62</text><text x="851" y="1160">41</text><text x="804" y="1149">40</text>
<text x="767" y="1227">35</text><text x="795" y="1217">36</text><text x="824" y="1212">37</text><text x="726" y="1315">38</text><text x="787" y="1286">34</text><text x="806" y="1353">33</text><text x="877" y="1309">23</text>
</g>
</g>
</svg>
</body></html>
